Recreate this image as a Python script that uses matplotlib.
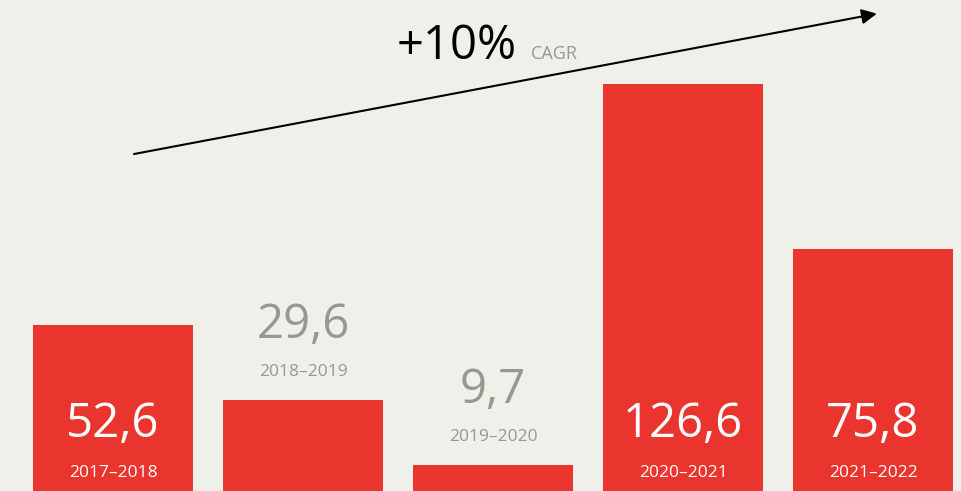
import matplotlib.pyplot as plt

periods = ["2017–2018", "2018–2019", "2019–2020", "2020–2021", "2021–2022"]
values = [52.6, 29.6, 9.7, 126.6, 75.8]
value_labels = ["52,6", "29,6", "9,7", "126,6", "75,8"]
cagr_label = "+10%"

bg = "#f0f0eb"
red = "#e9352d"
grey = "#98988f"

plt.rcParams["font.family"] = ["Open Sans", "DejaVu Sans"]

fig = plt.figure(figsize=(9.61, 4.91), dpi=100, facecolor=bg)
ax = fig.add_axes([0, 0, 1, 1])
ax.set_facecolor(bg)

x = list(range(len(values)))
ax.bar(x, values, width=0.842, color=red, linewidth=0)

for i, (v, lab, per) in enumerate(zip(values, value_labels, periods)):
    if v > 40:
        ax.text(i, 22.0, lab, ha="center", va="center", color="white", fontsize=34)
        ax.text(i, 7.3, per, ha="center", va="center", color="white", fontsize=12.5)
    else:
        ax.text(i, v + 23.0, lab, ha="center", va="center", color=grey, fontsize=34)
        ax.text(i, v + 8.6, per, ha="center", va="center", color=grey, fontsize=12.5)

# trend arrow
ax.annotate("", xy=(4.02, 148.2), xytext=(0.11, 105.1),
            arrowprops=dict(arrowstyle="-|>,head_length=0.9,head_width=0.45",
                            color="black", lw=1.5, shrinkA=0, shrinkB=0))
ax.text(1.495, 134.4, cagr_label, ha="left", va="baseline", color="black", fontsize=34)
ax.text(2.2, 134.4, "CAGR", ha="left", va="baseline", color=grey, fontsize=13)

ax.set_xlim(-0.595, 4.463)
ax.set_ylim(1.63, 152.4)
ax.axis("off")

fig.savefig("out.png", dpi=100, facecolor=bg)
